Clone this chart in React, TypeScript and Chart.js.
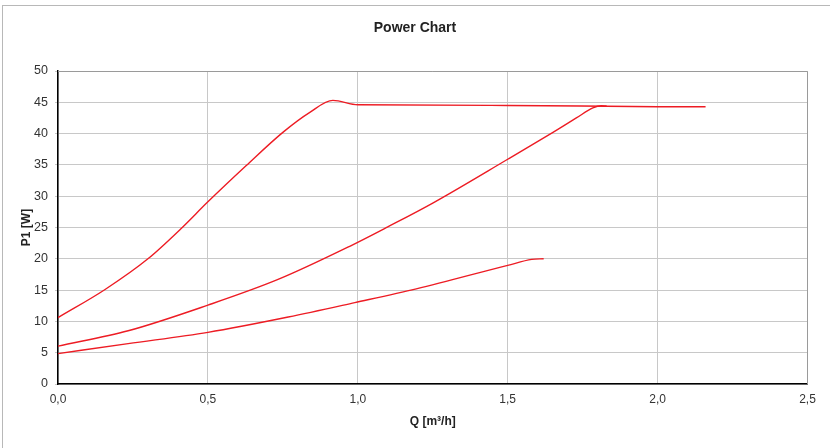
import { useEffect, useRef } from "react";
import { Chart, registerables } from "chart.js";

Chart.register(...registerables);

// Curve 1 (highest speed)
const curve1Q = [0, 0.157, 0.3, 0.41, 0.5, 0.628, 0.75, 0.84, 0.917, 1.0, 1.5, 2.0, 2.16];
const curve1P = [10.6, 15.1, 20.0, 24.8, 29.1, 34.9, 40.2, 43.4, 45.3, 44.6, 44.5, 44.3, 44.3];

// Curve 2 (medium speed)
const curve2Q = [0, 0.234, 0.5, 0.734, 0.973, 1.1, 1.25, 1.5, 1.651, 1.729, 1.784, 1.812, 1.83];
const curve2P = [6.05, 8.5, 12.6, 16.7, 22.0, 25.1, 28.9, 35.9, 40.2, 42.5, 44.1, 44.45, 44.4];

// Curve 3 (lowest speed)
const curve3Q = [0, 0.234, 0.5, 0.768, 0.99, 1.195, 1.5, 1.58, 1.62];
const curve3P = [4.85, 6.45, 8.25, 10.7, 13.0, 15.2, 18.95, 19.9, 20.0];

const chartTitle = "Power Chart";
const xTitle = "Q [m³/h]";
const yTitle = "P1 [W]";
const xMin = 0;
const xMax = 2.5;
const xStep = 0.5;
const yMin = 0;
const yMax = 50;
const yStep = 5;

const lineColor = "rgb(237,28,36)";

function toPoints(qs: number[], ps: number[]) {
  return qs.map((q, i) => ({ x: q, y: ps[i] }));
}

export default function App() {
  const ref = useRef<HTMLCanvasElement>(null);

  useEffect(() => {
    if (!ref.current) return;
    Chart.defaults.font.family = "'Liberation Sans', Arial, sans-serif";

    const framePlugin = {
      id: "frame",
      beforeDraw(chart: any) {
        const ctx = chart.ctx;
        ctx.save();
        ctx.fillStyle = "#ffffff";
        ctx.fillRect(0, 0, chart.width, chart.height);
        ctx.strokeStyle = "#b8b8b8";
        ctx.lineWidth = 1;
        ctx.strokeRect(2.5, 5.5, chart.width + 40, chart.height + 40);
        ctx.restore();
      },
      beforeDatasetsDraw(chart: any) {
        const { ctx, chartArea } = chart;
        ctx.save();
        ctx.strokeStyle = "#9a9a9a";
        ctx.lineWidth = 1;
        ctx.beginPath();
        const t = Math.round(chartArea.top) + 0.5;
        const r = Math.round(chartArea.right) - 0.5;
        ctx.moveTo(chartArea.left, t);
        ctx.lineTo(r, t);
        ctx.lineTo(r, chartArea.bottom);
        ctx.stroke();
        ctx.restore();
      },
    };

    const mk = (qs: number[], ps: number[]) => ({
      data: toPoints(qs, ps),
      showLine: true,
      borderColor: lineColor,
      backgroundColor: lineColor,
      borderWidth: 1.4,
      pointRadius: 0,
      cubicInterpolationMode: "monotone" as const,
      fill: false,
    });

    const chart = new Chart(ref.current, {
      type: "scatter",
      data: {
        datasets: [mk(curve1Q, curve1P), mk(curve2Q, curve2P), mk(curve3Q, curve3P)],
      },
      plugins: [framePlugin],
      options: {
        animation: false,
        responsive: false,
        devicePixelRatio: 1,
        layout: { padding: { left: 11, right: 11, top: 0, bottom: 0 } },
        plugins: {
          legend: { display: false },
          tooltip: { enabled: false },
          title: {
            display: true,
            text: chartTitle,
            color: "#222222",
            font: { size: 14, weight: "bold" },
            padding: { top: 20, bottom: 34.2 },
          },
        },
        scales: {
          x: {
            type: "linear",
            min: xMin,
            max: xMax,
            afterFit(scale: any) {
              scale.height = 64;
            },
            ticks: {
              stepSize: xStep,
              color: "#333333",
              font: { size: 12 },
              padding: 8.5,
              maxRotation: 0,
              callback: (v: any) => Number(v).toFixed(1).replace(".", ","),
            },
            grid: { color: "#c8c8c8", lineWidth: 1, drawTicks: false },
            border: { color: "#000000", width: 1.5 },
            title: {
              display: true,
              text: xTitle,
              color: "#222222",
              font: { size: 12, weight: "bold" },
              padding: { top: 0, bottom: 18.8 },
            },
          },
          y: {
            type: "linear",
            min: yMin,
            max: yMax,
            afterFit(scale: any) {
              scale.width = 47;
            },
            ticks: {
              stepSize: yStep,
              color: "#333333",
              font: { size: 12.5 },
              padding: 7,
            },
            grid: { color: "#c8c8c8", lineWidth: 1, drawTicks: true, tickLength: 3 },
            border: { color: "#000000", width: 1.5 },
            title: {
              display: true,
              text: yTitle,
              color: "#222222",
              font: { size: 12, weight: "bold" },
              padding: { top: 8.8, bottom: 0 },
            },
          },
          spacer: {
            type: "linear",
            position: "right",
            min: yMin,
            max: yMax,
            afterFit(scale: any) {
              scale.width = 11.5;
            },
            ticks: { display: false },
            grid: { display: false, drawOnChartArea: false },
            border: { display: false },
          },
        },
      },
    } as any);

    return () => chart.destroy();
  }, []);

  return (
    <div style={{ position: "absolute", left: 0, top: 0, width: 830, height: 448, background: "#fff" }}>
      <canvas ref={ref} width={830} height={448} style={{ display: "block", width: 830, height: 448 }} />
    </div>
  );
}
